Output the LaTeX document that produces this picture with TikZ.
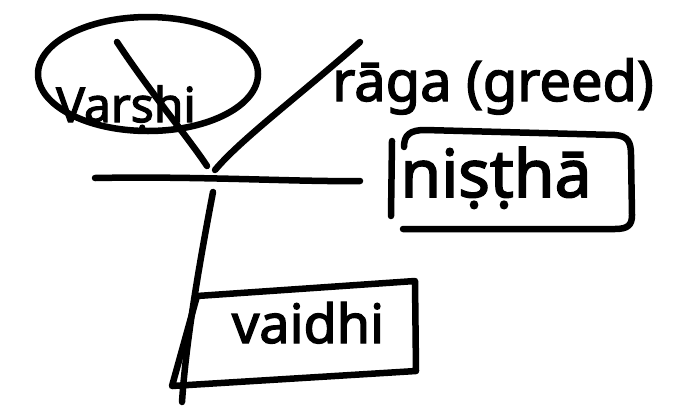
\documentclass[tikz,border=0pt]{standalone}
\usepackage{fontspec}
\setmainfont{Noto Sans}
\newfontfamily\inkfont{Noto Sans}[FakeBold=2.5]
\begin{document}
\begin{tikzpicture}[x=1pt,y=-1pt,
  ink/.style={line width=6.5pt,line cap=round,line join=round},
  lbl/.style={inner sep=0pt,anchor=base,font=\inkfont}]
\useasboundingbox[fill=white] (0,0) rectangle (679,413);

% tree: two upper branches meeting above a cross bar, one stem below
\coordinate (fork) at (212,172);
\coordinate (leftTop) at (117,42);
\coordinate (rightTop) at (360,42);
\coordinate (barL) at (95,178);
\coordinate (barR) at (360,181);
\coordinate (stemTop) at (213,192);
\coordinate (stemBot) at (182,402);

% circled label at the top left
\draw[ink] (148,74) ellipse [x radius=110, y radius=57];
\node[lbl] (varshi) at (126,122) {\fontsize{48}{56}\selectfont Varṣhi};

\draw[ink] (leftTop) .. controls (150,92) and (190,140) .. (207,166);
\draw[ink] (rightTop) .. controls (300,95) and (240,140) .. (215,170);
\draw[ink] (barL) .. controls (200,176) and (300,182) .. (barR);
\draw[ink] (stemTop) .. controls (200,260) and (186,340) .. (stemBot);

% label on the right branch
\node[lbl] (raga) at (493,101) {\fontsize{56}{64}\selectfont rāga (greed)};

% boxed label beside the cross bar
\draw[ink] (392,141) -- (391,216);
\draw[ink] (404,147) .. controls (404,135) and (410,130) .. (425,130)
  -- (615,135) .. controls (628,136) and (631,142) .. (631,155)
  -- (632,215) .. controls (632,225) and (628,229) .. (615,229)
  -- (403,229);
\node[lbl] (nistha) at (496,197) {\fontsize{66}{76}\selectfont niṣṭhā};

% boxed label at the foot of the stem
\draw[ink] (197,296) -- (415,281) -- (416,371) -- (172,386) -- cycle;
\node[lbl] (vaidhi) at (308,343) {\fontsize{54}{62}\selectfont vaidhi};
\end{tikzpicture}
\end{document}
